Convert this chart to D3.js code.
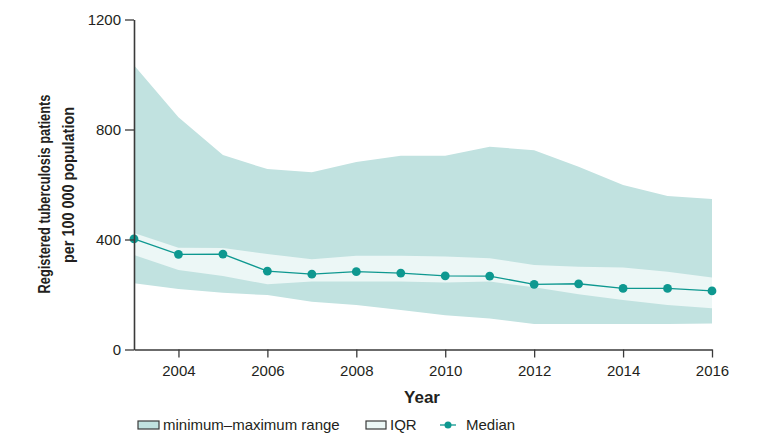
<!DOCTYPE html>
<html>
<head>
<meta charset="utf-8">
<script src="https://cdn.jsdelivr.net/npm/d3@7"></script>
<style>
  html, body { margin: 0; padding: 0; background: #fff; }
  svg { display: block; }
  text { font-family: "Liberation Sans Narrow", "Liberation Sans", sans-serif; fill: #231f20; }
</style>
</head>
<body>
<svg id="chart" width="771" height="447"></svg>
<script>
const years   = [2003, 2004, 2005, 2006, 2007, 2008, 2009, 2010, 2011, 2012, 2013, 2014, 2015, 2016];
const maxVals = [1034, 845, 707, 656, 645, 682, 705, 705, 737, 725, 665, 598, 558, 547];
const q3Vals  = [424, 370, 369, 347, 328, 341, 341, 338, 332, 307, 301, 298, 283, 262];
const median  = [402, 346, 347, 285, 274, 283, 278, 268, 267, 237, 239, 222, 222, 213];
const q1Vals  = [344, 289, 267, 237, 247, 247, 247, 244, 247, 226, 201, 180, 162, 150];
const minVals = [241, 220, 206, 198, 174, 162, 144, 125, 113, 93, 93, 93, 93, 95];
const xTicks  = [2004, 2006, 2008, 2010, 2012, 2014, 2016];
const yTicks  = [0, 400, 800, 1200];
const legendLabels = ["minimum\u2013maximum range", "IQR", "Median"];

const colMinMax = "#c1e2e0";
const colIQR = "#ecf7f6";
const colMed = "#0e9890";
const axisCol = "#3a3a3a";

const svg = d3.select("#chart");
const x = d3.scaleLinear().domain([2003, 2016]).range([134, 712]);
const y = d3.scaleLinear().domain([0, 1200]).range([349.5, 19.5]);

const data = years.map((yr, i) => ({yr, max: maxVals[i], q3: q3Vals[i], med: median[i], q1: q1Vals[i], min: minVals[i]}));

svg.append("path").datum(data)
  .attr("fill", colMinMax)
  .attr("d", d3.area().x(d => x(d.yr)).y0(d => y(d.min)).y1(d => y(d.max)));
svg.append("path").datum(data)
  .attr("fill", colIQR)
  .attr("d", d3.area().x(d => x(d.yr)).y0(d => y(d.q1)).y1(d => y(d.q3)));
svg.append("path").datum(data)
  .attr("fill", "none").attr("stroke", colMed).attr("stroke-width", 1.3)
  .attr("d", d3.line().x(d => x(d.yr)).y(d => y(d.med)));
svg.selectAll("circle.med").data(data).enter().append("circle")
  .attr("class", "med")
  .attr("cx", d => x(d.yr)).attr("cy", d => y(d.med)).attr("r", 4.4)
  .attr("fill", colMed);

// Axes
const xAxis = svg.append("g").attr("transform", `translate(0,${y(0)})`)
  .call(d3.axisBottom(x).tickValues(xTicks).tickFormat(d3.format("d")).tickSize(7).tickSizeOuter(0));
const yAxis = svg.append("g").attr("transform", `translate(${x(2003)},0)`)
  .call(d3.axisLeft(y).tickValues(yTicks).tickFormat(d => d).tickSize(9).tickSizeOuter(0));
[xAxis, yAxis].forEach(g => {
  g.select(".domain").attr("stroke", axisCol).attr("stroke-width", 1.6);
  g.selectAll(".tick line").attr("stroke", axisCol).attr("stroke-width", 1.3);
  g.selectAll(".tick text").attr("font-family", "Liberation Sans Narrow, sans-serif")
    .attr("font-size", 15).attr("fill", "#231f20");
});
xAxis.selectAll(".tick line").attr("y2", 8);
xAxis.selectAll(".tick text").attr("dy", "1.1em");
yAxis.selectAll(".tick text").attr("dx", "-1");

// Axis titles
svg.append("text").attr("x", 422).attr("y", 403).attr("text-anchor", "middle")
  .attr("font-size", 17).attr("font-weight", "bold").text("Year");
svg.append("text").attr("transform", "translate(50,194) rotate(-90)").attr("text-anchor", "middle")
  .attr("font-size", 17).attr("font-weight", "bold")
  .attr("textLength", 199).attr("lengthAdjust", "spacingAndGlyphs")
  .text("Registered tuberculosis patients");
svg.append("text").attr("transform", "translate(74,185) rotate(-90)").attr("text-anchor", "middle")
  .attr("font-size", 17).attr("font-weight", "bold")
  .attr("textLength", 156).attr("lengthAdjust", "spacingAndGlyphs")
  .text("per 100 000 population");

// Legend
const ly = 425;
svg.append("rect").attr("x", 138).attr("y", ly - 4).attr("width", 21).attr("height", 8)
  .attr("fill", colMinMax).attr("stroke", "#3a3a3a").attr("stroke-width", 1.2);
svg.append("text").attr("x", 163).attr("y", ly + 5).attr("font-size", 15).text(legendLabels[0]);
svg.append("rect").attr("x", 366).attr("y", ly - 4).attr("width", 20).attr("height", 8)
  .attr("fill", colIQR).attr("stroke", "#3a3a3a").attr("stroke-width", 1.2);
svg.append("text").attr("x", 390).attr("y", ly + 5).attr("font-size", 15).text(legendLabels[1]);
svg.append("line").attr("x1", 440).attr("x2", 456).attr("y1", ly).attr("y2", ly)
  .attr("stroke", colMed).attr("stroke-width", 1.3);
svg.append("circle").attr("cx", 448).attr("cy", ly).attr("r", 3.5).attr("fill", colMed);
svg.append("text").attr("x", 466).attr("y", ly + 5).attr("font-size", 15).text(legendLabels[2]);
</script>
</body>
</html>
